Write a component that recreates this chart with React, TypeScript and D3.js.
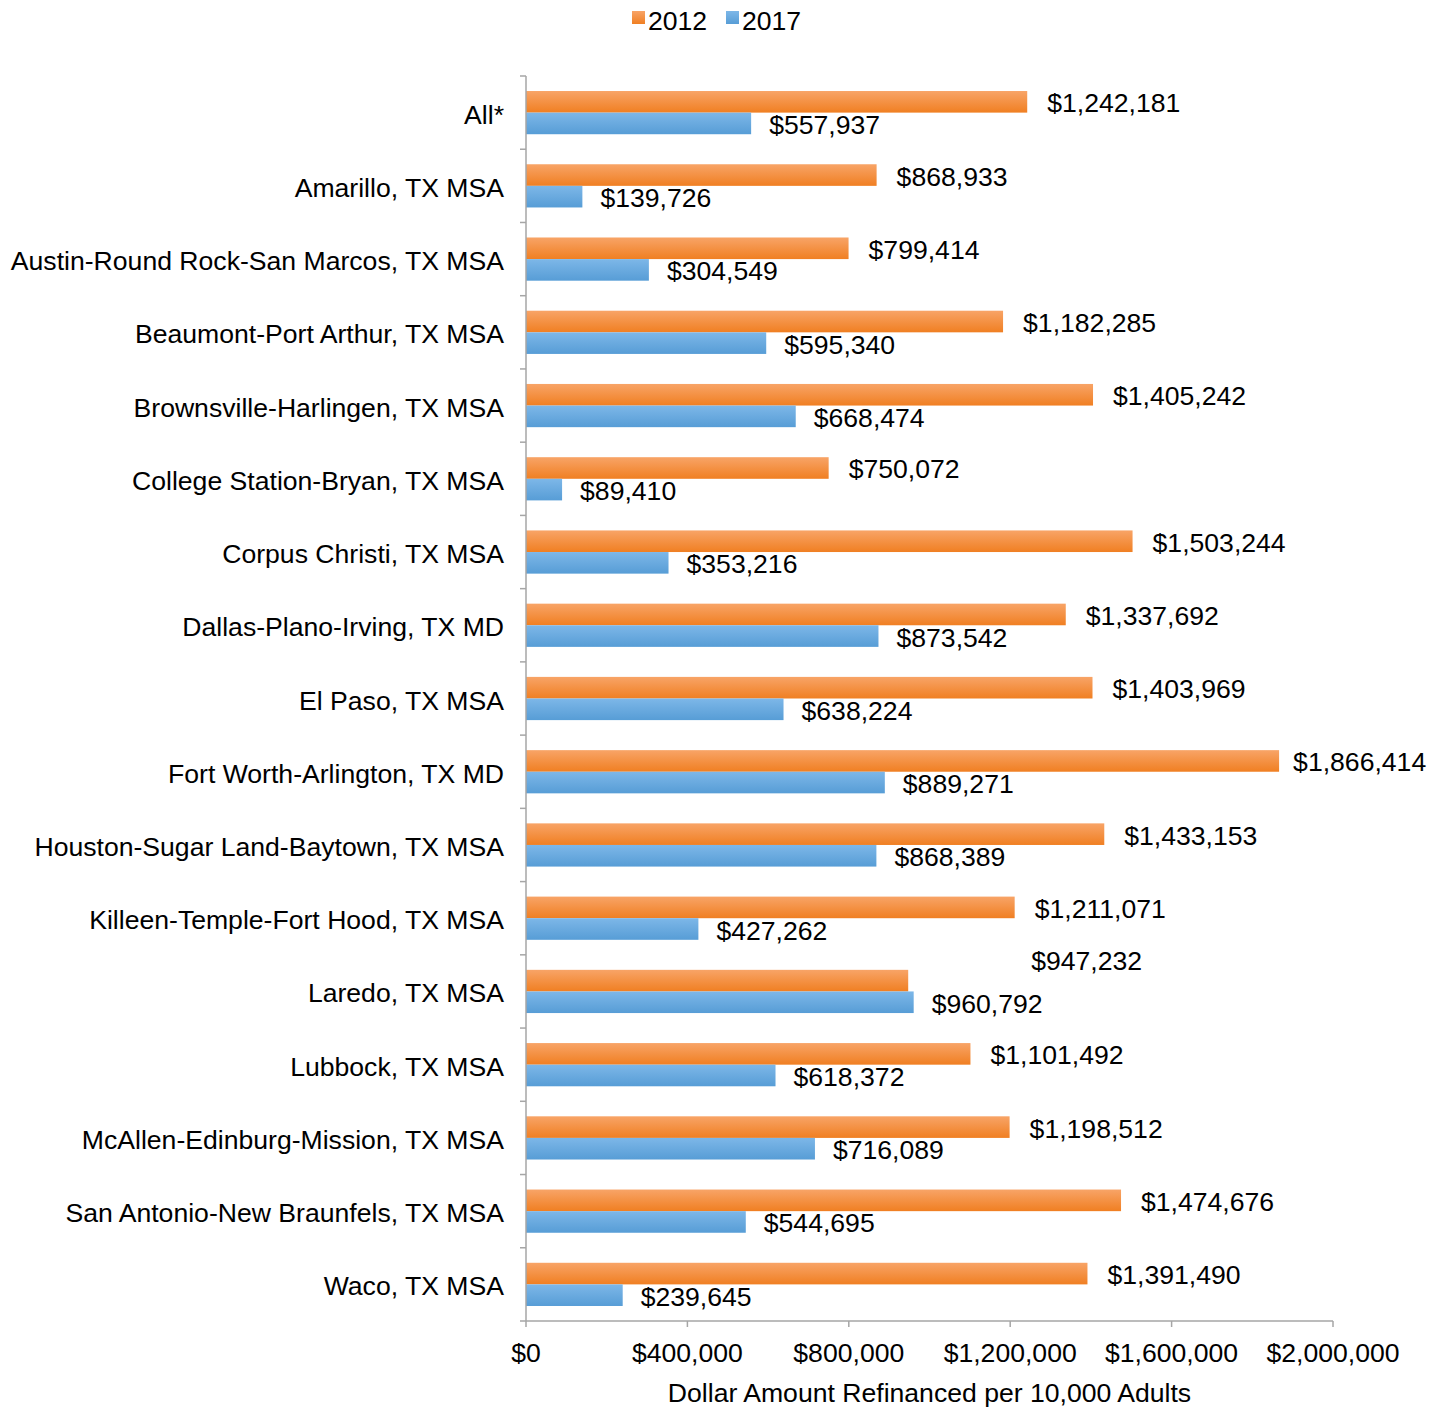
import React from "react";
import * as d3 from "d3";

const categories = [
  "All*",
  "Amarillo, TX MSA",
  "Austin-Round Rock-San Marcos, TX MSA",
  "Beaumont-Port Arthur, TX MSA",
  "Brownsville-Harlingen, TX MSA",
  "College Station-Bryan, TX MSA",
  "Corpus Christi, TX MSA",
  "Dallas-Plano-Irving, TX MD",
  "El Paso, TX MSA",
  "Fort Worth-Arlington, TX MD",
  "Houston-Sugar Land-Baytown, TX MSA",
  "Killeen-Temple-Fort Hood, TX MSA",
  "Laredo, TX MSA",
  "Lubbock, TX MSA",
  "McAllen-Edinburg-Mission, TX MSA",
  "San Antonio-New Braunfels, TX MSA",
  "Waco, TX MSA",
];

const values2012 = [
  1242181, 868933, 799414, 1182285, 1405242, 750072, 1503244, 1337692, 1403969,
  1866414, 1433153, 1211071, 947232, 1101492, 1198512, 1474676, 1391490,
];

const values2017 = [
  557937, 139726, 304549, 595340, 668474, 89410, 353216, 873542, 638224,
  889271, 868389, 427262, 960792, 618372, 716089, 544695, 239645,
];

const seriesNames = ["2012", "2017"];
const xTicks = [0, 400000, 800000, 1200000, 1600000, 2000000];
const xTitle = "Dollar Amount Refinanced per 10,000 Adults";

// Excel-moved labels for the 2012 series (label offsets)
const labelShift2012: Record<number, [number, number]> = { 9: [-6, 0], 12: [103, -21] };

const FONT = "'Liberation Sans', Arial, Helvetica, sans-serif";
const FS = 26.6;

export default function App() {
  const width = 1444;
  const height = 1408;
  const x0 = 526;
  const x1 = 1333;
  const yTop = 76;
  const yBot = 1321;

  const x = d3.scaleLinear().domain([0, 2000000]).range([x0, x1]);
  const y = d3.scaleBand<string>().domain(categories).range([yTop, yBot]);
  const bw = y.bandwidth();
  const inner = d3.scaleBand<string>().domain(seriesNames).range([bw * 0.205, bw * 0.795]);
  const fmt = (v: number) => "$" + d3.format(",")(v);
  const series = [values2012, values2017];
  const fills = ["url(#gOrange)", "url(#gBlue)"];
  const labelGap = [20, 18];

  return (
    <svg width={width} height={height} style={{ position: "absolute", left: 0, top: 0 }} fontFamily={FONT}>
      <defs>
        <linearGradient id="gOrange" x1="0" y1="0" x2="0" y2="1">
          <stop offset="0" stopColor="#f8a467" />
          <stop offset="1" stopColor="#f07f22" />
        </linearGradient>
        <linearGradient id="gBlue" x1="0" y1="0" x2="0" y2="1">
          <stop offset="0" stopColor="#7db7e8" />
          <stop offset="1" stopColor="#579dd6" />
        </linearGradient>
      </defs>

      {/* legend */}
      <rect x={632} y={11} width={13} height={13} fill="url(#gOrange)" />
      <text x={648} y={21} fontSize={FS} dominantBaseline="central">2012</text>
      <rect x={726} y={11} width={13} height={13} fill="url(#gBlue)" />
      <text x={742} y={21} fontSize={FS} dominantBaseline="central">2017</text>

      {/* bars */}
      {categories.map((c, i) =>
        series.map((vals, s) => {
          const by = (y(c) as number) + (inner(seriesNames[s]) as number);
          const bh = inner.bandwidth();
          return (
            <rect key={c + s} x={x(0)} y={by} width={x(vals[i]) - x(0)} height={bh} fill={fills[s]} />
          );
        })
      )}

      {/* value labels */}
      {categories.map((c, i) =>
        series.map((vals, s) => {
          const by = (y(c) as number) + (inner(seriesNames[s]) as number);
          const bh = inner.bandwidth();
          const sh = s === 0 && labelShift2012[i] ? labelShift2012[i] : [0, 0];
          return (
            <text
              key={"l" + c + s}
              x={x(vals[i]) + labelGap[s] + sh[0]}
              y={by + bh / 2 + 1.5 + sh[1]}
              fontSize={FS}
              dominantBaseline="central"
            >
              {fmt(vals[i])}
            </text>
          );
        })
      )}

      {/* y axis */}
      <line x1={x0} x2={x0} y1={yTop} y2={yBot} stroke="#a6a6a6" strokeWidth={1.5} />
      {d3.range(categories.length + 1).map((k) => {
        const yy = yTop + k * bw;
        return <line key={"yt" + k} x1={x0 - 6} x2={x0} y1={yy} y2={yy} stroke="#a6a6a6" strokeWidth={1.5} />;
      })}
      {categories.map((c) => (
        <text
          key={"cl" + c}
          x={504}
          y={(y(c) as number) + bw / 2 + 2}
          fontSize={FS}
          textAnchor="end"
          dominantBaseline="central"
        >
          {c}
        </text>
      ))}

      {/* x axis */}
      <line x1={x0} x2={x1} y1={yBot} y2={yBot} stroke="#a6a6a6" strokeWidth={1.5} />
      {xTicks.map((t) => (
        <g key={"xt" + t}>
          <line x1={x(t)} x2={x(t)} y1={yBot} y2={yBot + 6} stroke="#a6a6a6" strokeWidth={1.5} />
          <text x={x(t)} y={1353} fontSize={FS} textAnchor="middle" dominantBaseline="central">
            {fmt(t)}
          </text>
        </g>
      ))}
      <text x={(x0 + x1) / 2} y={1393} fontSize={FS} textAnchor="middle" dominantBaseline="central">
        {xTitle}
      </text>
    </svg>
  );
}
